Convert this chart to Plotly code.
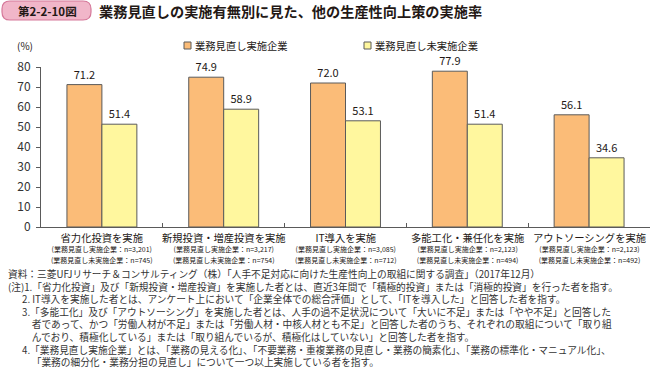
import plotly.graph_objects as go

# ---------------- data ----------------
categories = ["省力化投資を実施", "新規投資・増産投資を実施", "IT導入を実施", "多能工化・兼任化を実施", "アウトソーシングを実施"]
series_names = ["業務見直し実施企業", "業務見直し未実施企業"]
vals_done = [71.2, 74.9, 72.0, 77.9, 56.1]
vals_not = [51.4, 58.9, 53.1, 51.4, 34.6]
n_done = [3201, 3217, 3085, 2123, 2123]
n_not = [745, 754, 712, 494, 492]
y_ticks = [0, 10, 20, 30, 40, 50, 60, 70, 80]

fig_label = "第2-2-10図"
title_text = "業務見直しの実施有無別に見た、他の生産性向上策の実施率"
unit_text = "(%)"
notes = [
    "資料：三菱UFJリサーチ＆コンサルティング（株）「人手不足対応に向けた生産性向上の取組に関する調査」（2017年12月）",
    "(注)1.「省力化投資」及び「新規投資・増産投資」を実施した者とは、直近3年間で「積極的投資」または「消極的投資」を行った者を指す。",
    "2. IT導入を実施した者とは、アンケート上において「企業全体での総合評価」として、「ITを導入した」と回答した者を指す。",
    "3.「多能工化」及び「アウトソーシング」を実施した者とは、人手の過不足状況について「大いに不足」または「やや不足」と回答した",
    "者であって、かつ「労働人材が不足」または「労働人材・中核人材とも不足」と回答した者のうち、それぞれの取組について「取り組",
    "んでおり、積極化している」または「取り組んでいるが、積極化はしていない」と回答した者を指す。",
    "4.「業務見直し実施企業」とは、「業務の見える化」、「不要業務・重複業務の見直し・業務の簡素化」、「業務の標準化・マニュアル化」、",
    "「業務の細分化・業務分担の見直し」について一つ以上実施している者を指す。",
]

# ---------------- style ----------------
W, H = 666, 368
L, R, T, B = 41, 650, 67, 227
FONT = "Noto Sans CJK JP"
TXT = "#231815"
colors = ["#FBBC78", "#FFF79E"]
edge = "#5a5a5a"


def xp(px):
    return (px - L) / (R - L)


def yp(py):
    return (B - py) / (B - T)


fig = go.Figure()
for name, vals, col in zip(series_names, [vals_done, vals_not], colors):
    fig.add_trace(go.Bar(
        x=categories, y=vals, name=name,
        marker=dict(color=col, line=dict(color=edge, width=1)),
        texttemplate="%{y:.1f}", textposition="outside",
        textfont=dict(size=11, color=TXT, family=FONT),
        cliponaxis=False, showlegend=False, hoverinfo="skip",
    ))

annotations = []
shapes = []

# category labels (3 lines in one text)
for cat, nd, nn in zip(categories, n_done, n_not):
    txt = (f"<span style='font-size:10.3px'>{cat}</span><br>"
           f"<span style='font-size:7px'>({series_names[0]}：n={nd:,})</span><br>"
           f"<span style='font-size:7px'>({series_names[1]}：n={nn:,})</span>")
    annotations.append(dict(x=cat, xref="x", y=yp(227.5), yref="paper", text=txt,
                            showarrow=False, font=dict(size=8, color=TXT, family=FONT),
                            xanchor="center", yanchor="top", align="center"))

# manual legend
for name, col, lx in zip(series_names, colors, [184, 364]):
    shapes.append(dict(type="rect", xref="paper", yref="paper",
                       x0=xp(lx), x1=xp(lx + 7), y0=yp(49), y1=yp(42),
                       fillcolor=col, line=dict(color=edge, width=1)))
    annotations.append(dict(x=xp(lx + 9), y=yp(45.5), xref="paper", yref="paper",
                            text=name, showarrow=False, xanchor="left", yanchor="middle",
                            font=dict(size=10.3, color=TXT, family=FONT)))

# unit
annotations.append(dict(x=xp(25), y=yp(46), xref="paper", yref="paper", text=unit_text,
                        showarrow=False, xanchor="center", yanchor="middle",
                        font=dict(size=10, color=TXT, family=FONT)))

# title box (rounded)
bx0, bx1, by0, by1, r = 2, 91, 1, 20, 8
pts = (f"M {xp(bx0 + r)},{yp(by0)} L {xp(bx1 - r)},{yp(by0)} "
       f"Q {xp(bx1)},{yp(by0)} {xp(bx1)},{yp(by0 + r)} L {xp(bx1)},{yp(by1 - r)} "
       f"Q {xp(bx1)},{yp(by1)} {xp(bx1 - r)},{yp(by1)} L {xp(bx0 + r)},{yp(by1)} "
       f"Q {xp(bx0)},{yp(by1)} {xp(bx0)},{yp(by1 - r)} L {xp(bx0)},{yp(by0 + r)} "
       f"Q {xp(bx0)},{yp(by0)} {xp(bx0 + r)},{yp(by0)} Z")
shapes.append(dict(type="path", xref="paper", yref="paper", path=pts,
                   fillcolor="#F1B6C9", line=dict(color="#D5799A", width=1.2)))
annotations.append(dict(x=xp(47), y=yp(10.5), xref="paper", yref="paper", text=f"<b>{fig_label}</b>",
                        showarrow=False, xanchor="center", yanchor="middle",
                        font=dict(size=11.5, color="#231815", family=FONT)))
annotations.append(dict(x=xp(97), y=yp(10.5), xref="paper", yref="paper", text=f"<b>{title_text}</b>",
                        showarrow=False, xanchor="left", yanchor="middle",
                        font=dict(size=14.2, color="#231815", family=FONT)))

# footnotes as one multi-line text
indent = ["", "", "　&nbsp;&nbsp;", "　&nbsp;&nbsp;", "　　&nbsp;&nbsp;", "　　&nbsp;&nbsp;", "　&nbsp;&nbsp;", "　　&nbsp;&nbsp;"]
note_text = "<br>".join(ind + t for ind, t in zip(indent, notes))
annotations.append(dict(x=xp(6), y=yp(265), xref="paper", yref="paper",
                        text=note_text, showarrow=False, xanchor="left", yanchor="top", align="left",
                        font=dict(size=9.7, color="#333333", family=FONT)))

fig.update_layout(
    width=W, height=H,
    margin=dict(l=L, r=W - R, t=T, b=H - B, pad=0),
    paper_bgcolor="white", plot_bgcolor="white",
    barmode="group", bargap=0.426, bargroupgap=0,
    font=dict(family=FONT, color=TXT),
    showlegend=False,
    xaxis=dict(type="category", showline=True, linecolor=edge, linewidth=1,
               ticks="inside", tickson="boundaries", ticklen=4, tickcolor=edge,
               showticklabels=False, showgrid=False, zeroline=False,
               range=[-0.5, len(categories) - 0.5]),
    yaxis=dict(range=[0, 80], tickvals=y_ticks, showline=True, linecolor=edge, linewidth=1,
               ticks="outside", ticklen=4, tickcolor=edge, showgrid=False, zeroline=False,
               tickfont=dict(size=12, color="#333333", family=FONT), ticklabelstandoff=3),
    annotations=annotations, shapes=shapes,
)

fig.write_html("out.html", config={"displayModeBar": False},
               post_script="document.body.style.margin='0';document.body.style.overflow='hidden';")
